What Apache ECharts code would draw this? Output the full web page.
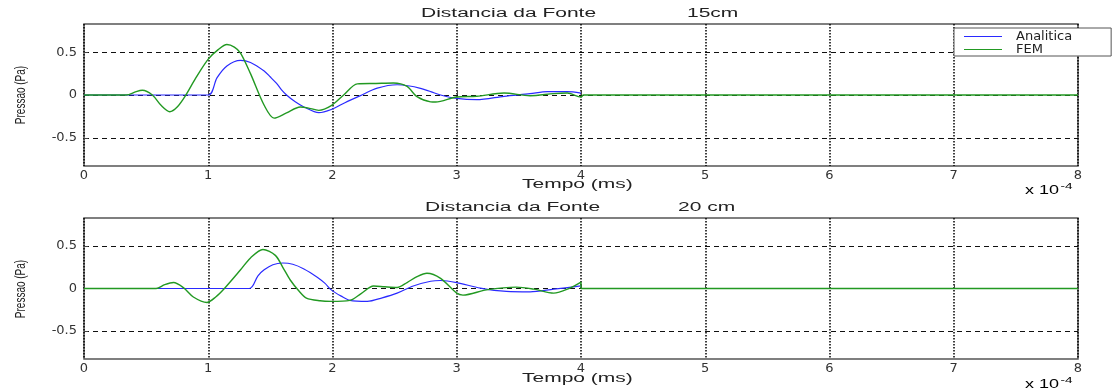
<!DOCTYPE html>
<html>
<head>
<meta charset="utf-8">
<script src="https://cdn.jsdelivr.net/npm/echarts@6/dist/echarts.min.js"></script>
<style>
  html, body { margin: 0; padding: 0; background: #fff; }
  #chart { width: 1113px; height: 390px; }
</style>
</head>
<body>
<div id="chart"></div>
<script>
// tempo em unidades de 1e-4 s, pressao em Pa
const analitica15 = [[0,0],[1.0,0],[1.07,0.2],[1.15,0.34],[1.26,0.405],[1.34,0.38],[1.45,0.28],[1.5,0.21],[1.55,0.135],[1.59,0.06],[1.63,0.0],[1.7,-0.08],[1.77,-0.14],[1.89,-0.207],[1.99,-0.17],[2.1,-0.09],[2.22,-0.01],[2.36,0.08],[2.52,0.12],[2.62,0.105],[2.7,0.08],[2.79,0.04],[2.87,0.0],[3.0,-0.04],[3.16,-0.055],[3.38,-0.015],[3.59,0.016],[3.73,0.04],[3.89,0.04],[4.0,0.023]];
const fem15 = [[0,0],[0.34,0],[0.42,0.04],[0.47,0.055],[0.55,0.0],[0.62,-0.12],[0.69,-0.195],[0.75,-0.14],[0.82,0.0],[0.9,0.2],[1.0,0.42],[1.08,0.53],[1.15,0.59],[1.21,0.56],[1.26,0.49],[1.34,0.25],[1.45,-0.12],[1.53,-0.27],[1.63,-0.21],[1.74,-0.14],[1.8,-0.15],[1.89,-0.18],[1.99,-0.125],[2.09,0.0],[2.2,0.13],[2.35,0.135],[2.49,0.14],[2.6,0.1],[2.68,-0.02],[2.79,-0.08],[2.83,-0.082],[3.0,-0.023],[3.16,-0.015],[3.38,0.023],[3.59,-0.008],[3.78,0.016],[3.89,0.023],[4.0,-0.023],[4.02,0],[8,0]];
const analitica20 = [[0,0],[1.33,0],[1.4,0.15],[1.45,0.22],[1.52,0.28],[1.6,0.30],[1.68,0.285],[1.77,0.23],[1.88,0.13],[1.94,0.06],[1.99,-0.016],[2.07,-0.09],[2.14,-0.14],[2.28,-0.152],[2.4,-0.11],[2.52,-0.055],[2.65,0.03],[2.79,0.085],[2.87,0.094],[3.0,0.07],[3.19,0.004],[3.4,-0.035],[3.59,-0.04],[3.78,-0.008],[4.0,0.03]];
const fem20 = [[0,0],[0.58,0],[0.65,0.045],[0.72,0.07],[0.8,0.01],[0.88,-0.1],[0.99,-0.164],[1.06,-0.1],[1.13,0.0],[1.26,0.22],[1.34,0.36],[1.44,0.46],[1.54,0.39],[1.6,0.25],[1.66,0.10],[1.73,-0.03],[1.79,-0.113],[1.9,-0.145],[1.99,-0.152],[2.14,-0.14],[2.23,-0.06],[2.33,0.03],[2.42,0.02],[2.52,0.012],[2.6,0.07],[2.68,0.14],[2.76,0.18],[2.87,0.12],[3.0,-0.055],[3.05,-0.078],[3.24,-0.016],[3.48,0.016],[3.62,-0.008],[3.78,-0.055],[3.91,0.004],[4.0,0.074],[4.0,0],[8,0]];
const yTicks = [-0.5, 0, 0.5];

const chart = echarts.init(document.getElementById('chart'));

function xAxisCfg(idx) {
  return {
    type: 'value', gridIndex: idx, min: 0, max: 8, interval: 1,
    axisLine: { show: false },
    axisTick: { show: true, inside: true, length: 4, lineStyle: { color: '#444' } },
    axisLabel: { margin: 3, color: '#333', fontFamily: 'DejaVu Sans', fontSize: 13 },
    splitLine: { show: true, lineStyle: { color: '#000', width: 1.5, type: [1.5, 1.5] } }
  };
}
function yAxisCfg(idx) {
  return {
    type: 'value', gridIndex: idx, min: -0.83, max: 0.83,
    axisLine: { show: false },
    axisTick: { show: true, inside: true, length: 4, customValues: yTicks, lineStyle: { color: '#444' } },
    axisLabel: { margin: 7, color: '#333', fontFamily: 'DejaVu Sans', fontSize: 13, customValues: yTicks },
    splitLine: { show: true, lineStyle: { color: '#111', width: 1, type: [5, 4] } }
  };
}
function lineSeries(name, data, idx, color, w) {
  return {
    name: name, type: 'line', data: data, xAxisIndex: idx, yAxisIndex: idx,
    showSymbol: false, smooth: 0.3, lineStyle: { color: color, width: w },
    itemStyle: { color: color }
  };
}
const txt = { fontFamily: 'Liberation Sans', fontSize: 12, fill: '#222', textVerticalAlign: 'middle' };
function label(text, x, y) {
  return { type: 'text', x: x, y: y, scaleX: 1.75, style: Object.assign({}, txt, { text: text, textAlign: 'left' }) };
}
function ylabel(y) {
  return { type: 'text', x: 21, y: y, rotation: Math.PI / 2, scaleY: 1.4,
    style: Object.assign({}, txt, { text: 'Pressao (Pa)', textAlign: 'center', fontSize: 10 }) };
}
function expo(y) {
  return { type: 'text', x: 1025, y: y, scaleX: 1.5, style: { text: '{a|x 10}{b|-4}', textVerticalAlign: 'middle',
    rich: { a: { fontFamily: 'Liberation Sans', fontSize: 12, color: '#222' },
            b: { fontFamily: 'Liberation Sans', fontSize: 9, color: '#222', verticalAlign: 'top', padding: [0, 0, 8, 1] } } } };
}

chart.setOption({
  animation: false,
  grid: [
    { left: 84, right: 35, top: 24, height: 142, show: true, borderColor: '#555', borderWidth: 1.5 },
    { left: 84, right: 35, top: 218, height: 141, show: true, borderColor: '#555', borderWidth: 1.5 }
  ],
  xAxis: [xAxisCfg(0), xAxisCfg(1)],
  yAxis: [yAxisCfg(0), yAxisCfg(1)],
  legend: {
    data: ['Analitica', 'FEM'], orient: 'vertical', left: 954, top: 28,
    icon: 'rect', itemWidth: 38, itemHeight: 1.2, itemGap: 0,
    padding: [2, 39, 0, 10], backgroundColor: '#fff', borderColor: '#555', borderWidth: 1,
    textStyle: { color: '#222', fontFamily: 'DejaVu Sans', fontSize: 13, lineHeight: 12, padding: [0, 0, 0, 9] }
  },
  series: [
    lineSeries('Analitica', analitica15, 0, '#2a2aff', 1.2),
    lineSeries('FEM', fem15, 0, '#229922', 1.4),
    lineSeries('Analitica', analitica20, 1, '#2a2aff', 1.2),
    lineSeries('FEM', fem20, 1, '#229922', 1.4)
  ],
  graphic: [
    label('Distancia da Fonte', 421, 14),
    label('15cm', 687, 14),
    label('Tempo (ms)', 522, 185),
    label('Distancia da Fonte', 425, 208),
    label('20 cm', 678, 208),
    label('Tempo (ms)', 522, 379),
    ylabel(95),
    ylabel(289),
    expo(191),
    expo(385)
  ]
});
</script>
</body>
</html>
